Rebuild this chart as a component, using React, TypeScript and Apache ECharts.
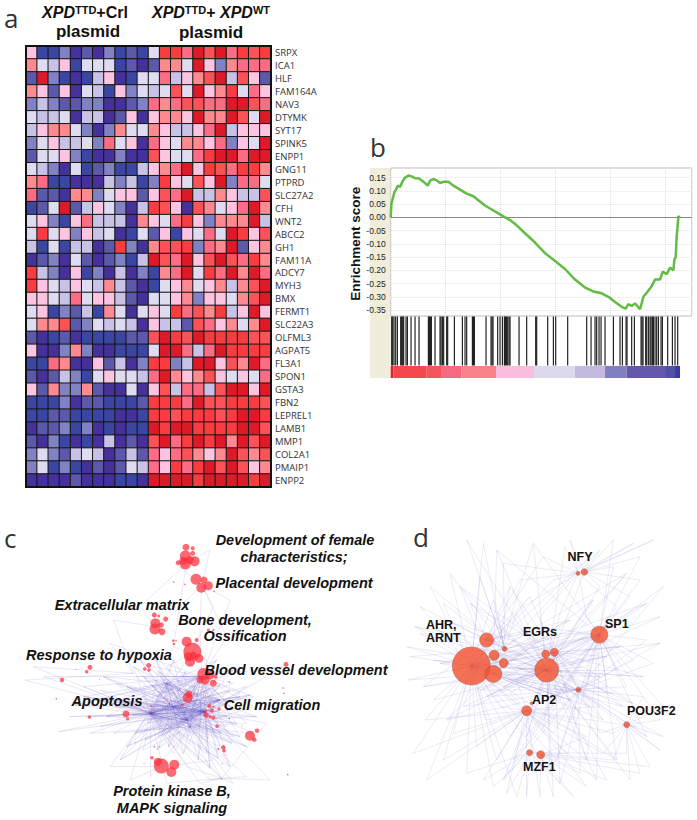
import React, { useEffect, useRef } from "react";
import * as echarts from "echarts";

const geneNames = ["SRPX","ICA1","HLF","FAM164A","NAV3","DTYMK","SYT17","SPINK5","ENPP1","GNG11","PTPRD","SLC27A2","CFH","WNT2","ABCC2","GH1","FAM11A","ADCY7","MYH3","BMX","FERMT1","SLC22A3","OLFML3","AGPAT5","FL3A1","SPON1","GSTA3","FBN2","LEPREL1","LAMB1","MMP1","COL2A1","PMAIP1","ENPP2"];
const heatRows = [
"gbbdacadbcbfkkiljlikjk","hfegbfffbcachhflgdhiii","cldbabegabffieghjlejgc","hgcgafebgdfefjflghkfig",
"dedccddaacdihijjiillji","feefaeeacgaghhglhhljfl","eghhfdadhffhgeegileggg","dfgeefdifgaigfhhgidgfl",
"cffgdbaadaajgffikllill","fedafbcdbbeghilgkjikkh","hibbaaaedebdkgfjgldiif","iccahhdfggcgjileehgeej",
"bcflcegfdaekjgajhfgilh","fgdbgieeeahgfikgdhhhle","fkfgdgefabfcgbgfiflkgj","ebfbeeackdahjjkdihlcgh",
"acdafcacdbeljilgjljikh","kedagbdaeadbhilfkilhli","kgfegfehecabfghfghehjl","ggfeifggecaffghdggfhjl",
"fgbdcebhfafgfkijhkeglg","fhhjcdfefeageecjighfhl","cabcabbbbccjlkjlkkkkjj","gaadhdaabbbfllieilkkkk",
"bbihaagceadkkdellgjhli","cacedbfgffeilhghjgfgfi","gchddhcaafagjeiiejllgl","bbbdaccbbbckkkiljjkkkj",
"bbccbbbbaabkkjkkkjkllk","accdbdababblkllkkkkllj","cadbabaeacajliklklhljl","dfdcefeaceciigjhghljhj".slice(0,11)+"igijhghljhj",
"dfbdbacacfeigkikljljgh","aaaacaaabballlklllklkl".slice(0,11)+"llllkllllkl",
];
const heatLevels = "abcdefghijkl";
const heatColors = ["#46309a","#3a46a2","#5c58aa","#8082c4","#c8c2e6","#dfdcf2","#fcc4e0","#fe8a90","#fc6c84","#fb5258","#f93c40","#de1a28"];

const gseaRank = [0,2,8,11,16,21,28,35,43,53,63,73,85,98,111,119,128,138,148,160,173,188,208,228,248,263,283,303,323,343,358,378,403,433,463,493,523,553,583,608,633,653,673,693,705,713,723,733,748,758,768,783,793,808,816,828,838,848,851,855,858,861,863,867];
const gseaScore = [0,0.05,0.08,0.095,0.105,0.12,0.115,0.135,0.15,0.158,0.155,0.148,0.147,0.135,0.12,0.14,0.145,0.14,0.13,0.135,0.135,0.12,0.105,0.09,0.08,0.065,0.045,0.03,0.015,0,-0.01,-0.03,-0.06,-0.095,-0.135,-0.165,-0.195,-0.235,-0.265,-0.28,-0.287,-0.3,-0.32,-0.338,-0.345,-0.328,-0.335,-0.325,-0.347,-0.3,-0.285,-0.26,-0.235,-0.235,-0.205,-0.215,-0.19,-0.2,-0.16,-0.15,-0.07,-0.03,0.005,0];
const rugRanks = [3,6,10,15,20,30,33,36,39,46,50,61,73,85,113,116,119,122,133,148,151,155,159,168,171,191,215,223,228,245,248,251,286,301,304,307,321,328,335,341,344,347,351,355,358,385,408,435,438,471,488,495,531,588,601,613,618,625,631,643,668,688,695,706,709,723,731,751,754,757,765,768,773,778,781,785,788,793,798,803,811,815,831,845,853,861];
const bandEdges = [0,8,108,151,213,316,430,553,643,708,823,853,868];
const bandColors = ["#e2202c","#f5484e","#f5565e","#f56a80","#f98288","#fcbcdc","#dcd8ee","#c4bae0","#8080c0","#6458ac","#5050a8","#3a3aa0"];

const goNodes = [[558,82,7],[578,85,4],[578,100,5],[556,108,11],[535,128,5],[550,122,8],[570,120,8],[556,132,11],[584,124,10],[588,178,11],[612,180,7],[604,203,10],[625,197,9],[521,186,1.5],[555,193,1.5],[642,214,1.5],[463,285,5],[476,288,3],[497,297,5],[466,310,10],[484,315,5],[465,327,11],[486,335,7],[625,330,3],[640,330,2],[520,362,2.5],[522,372,2.5],[528,362,1.5],[560,365,10],[590,360,4],[577,395,18],[565,410,9],[597,415,9],[570,425,10],[580,405,7],[270,442,5],[260,455,3.5],[228,448,1],[186,480,4.5],[318,420,1],[298,478,1],[169,536,1.5],[268,591,3.5],[446,436,5],[434,447,3.5],[447,450,3.5],[858,433,5],[849,504,1.5],[852,520,1.5],[610,462,12],[600,480,7],[630,465,9],[615,480,9],[647,470,4],[640,490,7],[688,486,1.5],[563,533,10],[567,522,7],[508,550,2],[546,555,2],[613,514,1],[628,558,4],[640,560,2],[657,567,3.5],[618,570,2.5],[635,572,4],[618,585,5.5],[630,590,3],[640,593,4],[651,619,3.5],[688,595,1.5],[726,618,1],[378,582,7],[383,597,3],[452,558,2],[460,560,1],[450,578,1.5],[750,647,10],[771,632,4.5],[763,659,4.5],[670,682,4.5],[672,692,3.5],[655,687,2],[672,705,1],[666,731,1],[456,713,3.5],[484,738,15],[473,725,8],[523,734,10],[514,756,10],[463,680,1.5],[478,680,1],[522,680,1],[432,730,1],[664,778,1],[863,764,1.5],[405,668,1]];
const goHubs = [[450,580],[615,575],[605,470],[400,460],[665,775],[570,620],[560,130],[605,195],[465,320],[575,400],[485,740],[755,530],[520,560],[560,600],[660,540],[500,490]];
const goLeaves = [[75,480,3,0],[100,440,3,0],[130,470,0,2],[175,635,0,1],[250,500,0,2],[330,740,0,10],[390,780,0,10],[340,640,0,5],[270,640,0,5],[210,590,0,1],[330,370,3,2],[340,300,8,3],[420,260,8,6],[500,300,8,7],[520,380,9,6],[525,130,6,7],[630,90,6,7],[690,240,7,2],[680,350,7,2],[640,260,7,9],[600,330,7,2],[850,440,2,1],[760,530,2,0],[700,490,2,0],[740,500,1,0],[760,640,1,5],[800,610,1,4],[810,780,4,1],[700,790,4,5],[740,770,4,5],[630,780,4,0],[600,790,4,0],[500,790,0,4],[450,770,0,5],[430,690,0,5],[700,650,1,5],[660,680,1,0],[620,700,1,0],[560,740,0,4],[500,640,0,1],[520,600,0,1],[540,560,0,1],[480,520,0,2],[520,470,0,2],[550,500,0,2],[430,500,0,2],[390,520,0,2],[370,570,0,1],[420,640,0,1],[470,630,0,1],[590,640,1,0],[640,640,1,0],[590,520,1,0],[640,530,1,2],[570,590,1,2],[700,570,1,2],[720,520,1,2],[680,620,1,0],[660,530,2,0],[550,470,2,0],[480,470,2,5],[410,470,2,5],[460,440,2,1],[500,440,9,1],[540,450,9,0],[620,420,9,1],[400,560,1,2],[350,490,0,1],[300,510,0,1],[270,590,0,1],[300,620,0,1],[580,680,0,4],[540,660,0,4],[600,660,5,4],[640,720,5,10],[520,700,5,0],[740,610,5,2],[760,560,5,2],
[400,440,0,1,15,13],[430,470,1,14,12,5],[455,495,1,13,5,14],[475,455,0,13,14,1],[505,480,0,5,1,13],[530,505,0,13,14,5],[555,455,0,12,13,1],[585,495,0,12,13,5],[630,505,0,12,13,15],[660,495,0,12,13,5],[690,510,0,12,13,5],[720,530,12,13,0,1],[750,525,0,12,13,1],[380,500,1,12,14,13],[360,540,1,12,13,2],[395,585,1,13,12,14],[420,545,1,2,13,14],[470,545,1,2,13,14],[495,575,1,2,14,15],[525,585,1,2,14,15],[555,575,0,2,14,15],[585,545,0,13,12,15],[610,535,0,13,12,15],[650,575,0,13,12,15],[680,590,0,13,12,15],[710,610,0,13,12,2],[445,610,1,2,14,15],[475,650,1,2,14,15],[505,620,1,2,14,15],[535,625,1,2,0,15],[565,650,1,2,0,15],[600,620,0,2,12,15],[625,655,0,2,12,15],[665,640,0,2,12,13],[695,670,0,2,12,13],[720,650,0,2,12,13],[405,640,1,2,13,14],[435,660,1,2,13,14],[470,690,1,2,13,12],[505,680,1,2,13,12],[550,700,1,2,12,0],[595,720,1,2,13,0],[630,745,1,2,13,0],[655,715,1,2,13,0],[690,740,1,2,13,0],[345,560,1,2,12,13],[320,590,1,12,13,15],[285,540,1,12,13,15],[310,470,1,12,13,15],[250,530,1,12,13,15],[225,555,1,12,13,15],[420,420,1,12,13,15],[460,400,1,12,13,15],[520,420,1,0,13,15],[650,420,0,12,13,15],[700,450,0,12,13,15],[770,590,0,12,13,15],[740,680,0,12,13,15],[380,680,1,12,13,15],[360,720,1,12,13,15]];
const goLabels = [["Development of female",295,540],["characteristics;",294,557],["Placental development",294,583],["Extracellular matrix",122,605],["Bone development,",245,620],["Ossification",245,636],["Response to hypoxia",99,655],["Blood vessel development",296,670],["Apoptosis",107,701],["Cell migration",272,705],["Protein kinase B,",172,791],["MAPK signaling",172,808]];

const tfNodes = [[214,438,38],[260,360,14],[282,406,10],[311,429,9],[314,387,5],[280,462,17],[440,450,24],[437,402,8],[463,397,8],[598,344,17],[553,156,6.5],[534,160,4],[535,509,5],[380,572,10],[395,550,3],[680,614,6],[389,698,6],[422,704,8]];
const tfHubs = [[214,438],[440,450],[598,344],[535,160],[553,156],[380,572],[680,614],[389,698],[422,704],[314,387],[535,509],[260,360],[280,462],[463,397]];
const tfLeaves = [[495,80,3,1],[510,60,3,4],[600,90,4,3],[640,60,4,2],[700,70,4,3],[760,60,4,3],[430,110,3,0],[720,180,4,2],[690,230,4,2],[560,290,3,2],[480,280,3,1],[420,290,3,1],[370,260,3,0],[640,140,4,2],[460,180,3,0],[600,200,4,1],[25,480,0,1],[30,410,0,9],[20,380,0,1],[110,330,0,1],[130,250,0,9],[200,60,9,1],[250,70,9,0],[310,130,9,3],[60,260,0,9],[100,420,0,1],[40,700,0,5],[75,600,0,5],[80,780,0,5],[130,720,0,5],[160,640,0,5],[100,540,0,1],[380,830,7,5],[350,830,7,0],[420,830,8,5],[460,830,8,1],[520,830,8,7],[280,800,7,0],[250,780,7,5],[320,820,7,5],[560,800,8,5],[620,780,8,1],[790,560,6,2],[790,650,6,10],[780,690,6,1],[750,740,6,8],[720,760,6,8],[690,780,6,1],[640,720,6,7],[610,700,6,5],[780,600,6,2],[730,530,6,10],[790,200,2,10],[780,290,2,1],[740,360,2,10],[700,420,2,10],[650,450,2,1],[650,260,2,3],[560,440,2,1],[520,380,2,1],[480,340,2,9],[400,320,9,2],[350,280,9,1],[300,320,9,1],[280,240,9,0],[240,170,9,0],[350,480,1,5],[330,520,1,5],[300,560,0,5],[260,600,0,5],[230,680,0,5],[200,760,0,7],[460,640,5,10],[520,600,5,10],[600,560,5,10],[640,520,10,1],[560,650,5,8],[500,700,5,8],[450,760,8,1],[330,650,5,0],[290,720,5,0],[540,760,8,10],[600,640,6,10],[620,500,10,2],[480,520,10,0],[460,560,5,1],[400,470,1,0],[370,430,1,0],[340,390,1,0],[500,450,1,2],[560,500,1,2],[410,400,1,2],[720,110,4,2],[360,180,3,0],[760,430,2,10],[710,620,6,5],[640,640,6,5],[680,500,10,2],[150,160,0,9],[90,200,0,9],[60,340,0,1],[680,700,6,7],
[120,430,1,12,9],[160,310,1,13,12],[210,250,1,11,13],[330,200,11,13,12],[390,230,11,13,0],[440,330,11,12,10],[510,300,11,12,0],[580,240,1,13,12],[620,410,1,13,12],[660,380,1,13,0],[600,470,1,12,13],[570,560,1,12,13],[510,540,0,12,13],[440,530,0,13,2],[390,500,2,13,11],[350,440,2,13,10],[310,500,2,1,10],[260,530,2,1,10],[190,560,1,11,10],[140,600,1,12,10],[70,500,1,12,11],[45,320,1,12,13],[180,200,12,1,13],[290,90,12,1,2],[400,70,12,1,2],[570,110,1,0,9],[680,160,0,1,13],[740,250,1,13,0],[780,370,1,13,10],[620,320,0,9,13],[430,620,0,2,13],[380,650,1,2,13],[340,720,1,2,10],[310,780,1,2,10],[470,720,0,2,10],[480,790,0,2,13],[560,720,0,2,13],[610,600,0,1,13],[670,560,0,1,13],[730,470,0,1,13],[740,650,1,2,10],[700,550,0,13,11],[650,720,0,1,2],[590,780,0,1,2],[230,440,2,13,1],[260,410,2,13,10],[240,510,1,13,10],[160,450,2,13,10]];
const tfLabels = [["NFY",580,557,"center"],["AHR,",426,625,"left"],["ARNT",426,638,"left"],["EGRs",540,632,"center"],["SP1",605,624,"left"],["AP2",532,700,"left"],["POU3F2",627,711,"left"],["MZF1",523,767,"left"]];
const panelLetters = [["a",4,18],["b",370,147],["c",4,538],["d",413,537]];

const SANS = '"Liberation Sans", Arial, sans-serif';

function edgesOf(leaves: number[][], hubs: number[][]) {
  const out: any[] = [];
  leaves.forEach((l) => {
    l.slice(2).forEach((h) => out.push({ coords: [[l[0], l[1]], hubs[h]] }));
  });
  return out;
}
const hidden = { show: false };

function buildOption() {
  const heatData: number[][] = [];
  heatRows.forEach((row, y) => {
    for (let x = 0; x < 22; x++) heatData.push([x, y, heatLevels.indexOf(row[x])]);
  });
  const titleRich = {
    i: { font: `italic bold 16px ${SANS}`, fill: "#111" },
    s: { font: `bold 11px ${SANS}`, fill: "#111", verticalAlign: "top" },
    b: { font: `bold 16px ${SANS}`, fill: "#111" },
  };
  const hdr = (text: string, x: number, y: number) => ({
    type: "text", x, y, z: 20,
    style: { text, rich: titleRich, align: "center", verticalAlign: "middle", fill: "#111" },
  });
  const plain = (text: string, x: number, y: number, font: string, align = "center", fill = "#111") => ({
    type: "text", x, y, z: 20,
    style: { text, font, fill, align, verticalAlign: "middle" },
  });
  return {
    animation: false,
    backgroundColor: "#fff",
    grid: [
      { left: 26, top: 46, width: 245, height: 441 },
      { left: 390.7, top: 168, width: 301, height: 148, show: true, borderColor: "#bbb", borderWidth: 1 },
      { left: 390.7, top: 177.7, width: 301, height: 132.3 },
      { left: 390.7, top: 316, width: 301, height: 62 },
      { left: 0, top: 520, width: 400, height: 300 },
      { left: 400, top: 520, width: 297, height: 300 },
    ],
    xAxis: [
      { gridIndex: 0, type: "category", data: Array.from({ length: 22 }, (_, i) => String(i)), show: false },
      { gridIndex: 1, type: "value", min: 0, max: 903, interval: 165, axisLine: hidden, axisTick: hidden, axisLabel: hidden,
        splitLine: { show: true, lineStyle: { color: "#ddd", type: "dotted", width: 1 } } },
      { gridIndex: 2, type: "value", min: 0, max: 903, axisLabel: hidden, axisTick: hidden, splitLine: hidden,
        axisLine: { show: true, onZero: true, lineStyle: { color: "#888", width: 1 } } },
      { gridIndex: 3, type: "value", min: 0, max: 903, show: false },
      { gridIndex: 4, type: "value", min: 0, max: 1200, show: false },
      { gridIndex: 5, type: "value", min: 0, max: 891, show: false },
    ],
    yAxis: [
      { gridIndex: 0, type: "category", data: geneNames, inverse: true, position: "right", axisLine: hidden, axisTick: hidden,
        axisLabel: { fontFamily: '"Open Sans", sans-serif', fontSize: 9.5, color: "#333", margin: 4, interval: 0 } },
      { gridIndex: 1, type: "value", min: 0, max: 1, show: false },
      { gridIndex: 2, type: "value", min: -0.35, max: 0.15, interval: 0.05,
        name: "Enrichment score", nameLocation: "middle", nameRotate: 90, nameGap: 27,
        nameTextStyle: { fontFamily: SANS, fontWeight: "bold", fontSize: 13.5, color: "#111" },
        axisLine: hidden, axisTick: hidden,
        axisLabel: { fontFamily: SANS, fontSize: 8.5, color: "#222", margin: 5, formatter: (v: number) => v.toFixed(2) },
        splitLine: { show: true, lineStyle: { color: "#e4e4e4", type: "dotted" } } },
      { gridIndex: 3, type: "value", min: 0, max: 1, show: false },
      { gridIndex: 4, type: "value", min: 0, max: 900, inverse: true, show: false },
      { gridIndex: 5, type: "value", min: 0, max: 900, inverse: true, show: false },
    ],
    visualMap: {
      show: false, type: "piecewise", seriesIndex: 0, dimension: 2,
      pieces: heatColors.map((color, i) => ({ value: i, color })),
    },
    series: [
      { type: "heatmap", xAxisIndex: 0, yAxisIndex: 0, data: heatData, silent: true,
        itemStyle: { borderColor: "#151515", borderWidth: 1 } },
      { type: "line", xAxisIndex: 2, yAxisIndex: 2, data: gseaRank.map((x, i) => [x, gseaScore[i]]), clip: false,
        showSymbol: false, lineStyle: { color: "#63bb45", width: 2.5 }, silent: true },
      { type: "custom", xAxisIndex: 3, yAxisIndex: 3, silent: true, data: rugRanks.map((x) => [x]), encode: { x: 0 },
        renderItem: (_: any, api: any) => {
          const a = api.coord([api.value(0), 0.99]);
          const b = api.coord([api.value(0), 0.2]);
          return { type: "line", shape: { x1: a[0], y1: a[1], x2: b[0], y2: b[1] }, style: { stroke: "#111", lineWidth: 1.1 } };
        } },
      { type: "custom", xAxisIndex: 3, yAxisIndex: 3, silent: true,
        data: bandColors.map((_, i) => [bandEdges[i], bandEdges[i + 1], i]), encode: { x: [0, 1] },
        renderItem: (_: any, api: any) => {
          const a = api.coord([api.value(0), 0.195]);
          const b = api.coord([api.value(1), 0]);
          return { type: "rect", shape: { x: a[0], y: a[1], width: b[0] - a[0], height: b[1] - a[1] },
            style: { fill: bandColors[api.value(2)] } };
        } },
      { type: "lines", coordinateSystem: "cartesian2d", xAxisIndex: 4, yAxisIndex: 4, polyline: false, silent: true,
        data: edgesOf(goLeaves, goHubs), lineStyle: { color: "#5a50c0", width: 0.5, opacity: 0.26 } },
      { type: "scatter", xAxisIndex: 4, yAxisIndex: 4, data: goNodes, silent: true,
        symbolSize: (v: number[]) => v[2], itemStyle: { color: "#fb2f3c", opacity: 0.72 } },
      { type: "lines", coordinateSystem: "cartesian2d", xAxisIndex: 5, yAxisIndex: 5, polyline: false, silent: true,
        data: edgesOf(tfLeaves, tfHubs), lineStyle: { color: "#6a60c8", width: 0.5, opacity: 0.25 } },
      { type: "scatter", xAxisIndex: 5, yAxisIndex: 5, data: tfNodes, silent: true,
        symbolSize: (v: number[]) => v[2], itemStyle: { color: "#f4502c", opacity: 0.8, borderColor: "#a05a50", borderWidth: 0.6 } },
    ],
    graphic: [
      { type: "rect", z: -1, shape: { x: 370, y: 168, width: 20.7, height: 210 }, style: { fill: "#f0edda" } },
      { type: "rect", z: 10, shape: { x: 26, y: 46, width: 245, height: 441 }, style: { fill: "none", stroke: "#111", lineWidth: 2 } },
      hdr("{i|XPD}{s|TTD}{b|+Crl}", 85, 12),
      hdr("{i|XPD}{s|TTD}{b|+ }{i|XPD}{s|WT}", 211, 12),
      plain("plasmid", 88, 31, `bold 17px ${SANS}`),
      plain("plasmid", 211, 32, `bold 17px ${SANS}`),
      ...panelLetters.map((p) => plain(p[0] as string, p[1] as number, p[2] as number, `26px "Open Sans", sans-serif`, "left", "#333")),
      ...goLabels.map((l) => plain(l[0] as string, l[1] as number, l[2] as number, `italic bold 14.5px ${SANS}`)),
      ...tfLabels.map((l) => plain(l[0] as string, l[1] as number, l[2] as number, `bold 12.5px ${SANS}`, l[3] as string)),
    ],
  };
}

export default function App() {
  const ref = useRef<HTMLDivElement>(null);
  useEffect(() => {
    const chart = echarts.init(ref.current!, undefined, { renderer: "svg" });
    chart.setOption(buildOption() as any);
    return () => chart.dispose();
  }, []);
  return <div ref={ref} style={{ position: "absolute", left: 0, top: 0, width: 697, height: 820 }} />;
}
